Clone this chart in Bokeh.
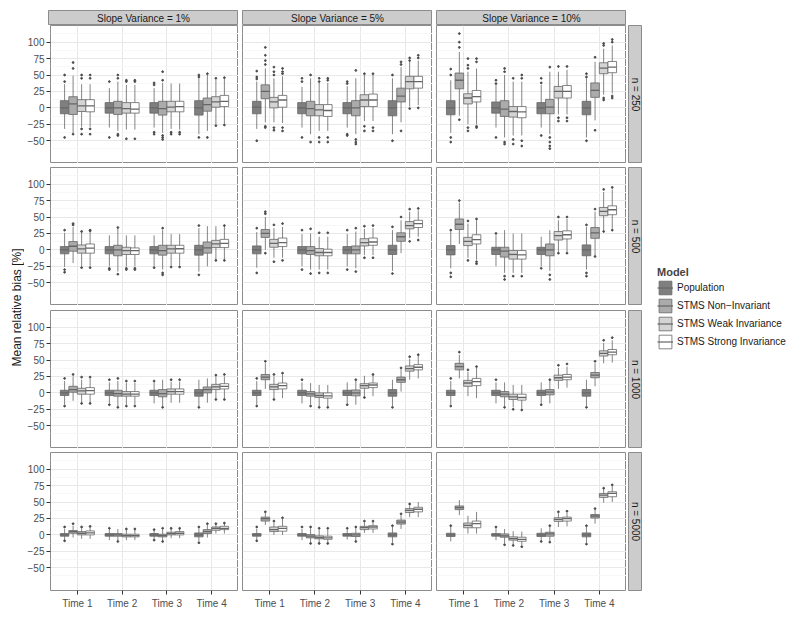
from bokeh.plotting import figure
from bokeh.models import (FactorRange, Range1d, FixedTicker, ColumnDataSource, Label,
                          Legend, LegendItem, Spacer)
from bokeh.layouts import row, column
from bokeh.transform import dodge
from bokeh.embed import file_html
from bokeh.resources import INLINE

# ---------------- data ----------------
times = ["Time 1", "Time 2", "Time 3", "Time 4"]
models = ["Population", "STMS Non\u2212Invariant", "STMS Weak Invariance", "STMS Strong Invariance"]
col_labels = ["Slope Variance = 1%", "Slope Variance = 5%", "Slope Variance = 10%"]
row_labels = ["n = 250", "n = 500", "n = 1000", "n = 5000"]
y_ticks = [-50, -25, 0, 25, 50, 75, 100]
y_minor = [-62.5, -37.5, -12.5, 12.5, 37.5, 62.5, 87.5, 112.5]

# box stats (whisker low, q1, median, q3, whisker high), order: T1 Pop/NonInv/Weak/Strong, T2 ..., T3 ..., T4 ...
n250_sv1 = [(-32, -9, 0, 11, 36), (-38, -10, 6, 17, 49), (-29, -5.5, 3, 12.5, 36), (-29, -6, 3, 12.5, 36),
            (-30, -8, 0, 8, 30), (-35, -10, 0, 10, 40), (-33, -8, -1, 8, 35), (-33, -8, -2, 8, 35),
            (-30, -8, 0, 8, 30), (-38, -11, -1, 10, 38), (-32, -6, 1, 10, 37), (-33, -6, 2, 10, 37),
            (-40, -11, 0, 11, 45), (-35, -5, 5, 15, 50), (-25, 1, 9, 17, 43), (-24, 2, 10, 19, 44)]
n250_sv1_out = [[50, 40, -45], [69, 60, -40], [50, 45, -40, -32], [50, 45, -40, -32],
                [40, -45], [50, 45, -42, -40], [42, 40, -47], [42, 40, -47],
                [38, 35, -37, -40], [55, 42, -42, -45, -48], [-37, -40], [-37, -40],
                [50, 47, -45], [52, -45], [45, -27], [46, -26]]

n250_sv5 = [(-32, -9, 1, 10, 40), (-22, 14, 25, 35, 60), (-22, 0, 9, 16, 45), (-23, 1, 12, 19, 48),
            (-30, -9, 0, 8, 32), (-40, -12, -1, 10, 45), (-35, -12, -3, 5, 38), (-35, -13, -4, 5, 38),
            (-30, -9, 0, 8, 33), (-40, -12, 0, 11, 45), (-20, 2, 12, 20, 50), (-20, 2, 12, 21, 50),
            (-40, -12, 0, 11, 45), (-22, 9, 18, 30, 62), (2, 29, 40, 48, 70), (4, 30, 40, 48, 72)]
n250_sv5_out = [[56, 47, 44, -50], [92, 80, 72, 66, -28, -30], [62, 55, 50, -30, -34], [60, 55, 52, -30, -35],
                [45, 40, -45], [50, -52], [45, 40, -45, -52], [45, 42, -45, -52],
                [40, 37, -40, -42], [57, -48, -52, -55], [52, -28, -35], [52, -30, -35],
                [50, -50], [70, 66, -35], [72, 76, -1], [80, 76, 0]]

n250_sv10 = [(-38, -10.5, 0, 11, 42), (-12, 29, 42, 53, 85), (-25, 6, 15, 21.5, 55), (-25, 9, 17, 26.5, 60),
             (-30, -8, 0, 9, 35), (-45, -13, -2, 11, 50), (-42, -14, -5.5, 2, 40), (-42, -15, -6, 2, 40),
             (-30, -9, 0, 8, 35), (-40, -9, 1, 13, 55), (-10, 15, 25, 32.6, 55), (-10, 15, 25, 34, 58),
             (-45, -10.5, 0, 10, 45), (-19, 16, 26.5, 38, 70), (20, 52, 60.5, 68.6, 90), (22, 53.5, 62, 70.6, 95)]
n250_sv10_out = [[59, 50, -45, -52], [113, 100, 92, -18], [75, 65, 60, -30, -35], [75, 70, -28, -30],
                 [42, 37, -45], [60, 55, -52, -55], [45, -48, -55], [50, 45, -50, -58],
                 [45, 38, -42], [62, -45, -52, -58, -62], [63, -15, -20], [63, -15, -20],
                 [52, 47, -50], [77, -34], [98, 95, 15, 12], [104, 100, 18, 15]]

n500_sv1 = [(-26, -6, 0, 5, 26), (-20, -2, 5.5, 12.6, 35), (-25, -5, 1.5, 7.5, 27), (-25, -5, 2.7, 9, 28),
            (-25, -6, 0, 5, 22), (-33, -9, 0, 7, 32), (-25, -7, -1, 4, 22), (-25, -7, -1, 3, 22),
            (-25, -6, 0, 5, 22), (-30, -8, -1, 7, 30), (-24, -5, 1.5, 7, 24), (-24, -5, 1.7, 7, 24),
            (-33, -8, 0, 7, 33), (-25, -5, 3, 12, 36), (-15, 3.5, 9, 14.5, 36), (-15, 3.5, 10, 16, 36)]
n500_sv1_out = [[30, -30, -34], [40, 38], [28, -27], [30, 29, -27],
                [-28, -30], [34, -37], [-28, -30], [-28, -30],
                [-27], [33, -35, -38], [-26], [-26],
                [37, -38], [], [-16], [37, -16]]

n500_sv5 = [(-27, -6, 0, 6, 27), (0, 19, 25, 31, 50), (-12, 4, 10, 16, 33), (-12, 5, 11, 18, 35),
            (-25, -6, 0, 5, 24), (-30, -7, -1, 5, 25), (-30, -9, -4, 2, 20), (-30, -9, -4, 1, 20),
            (-25, -6, 0, 5, 24), (-28, -6, 0, 6, 28), (-8, 6, 11, 17, 32), (-8, 7, 12, 18, 33),
            (-32, -7, 0, 7, 30), (-5, 13, 20, 26, 45), (18, 32, 37, 43, 58), (20, 34, 40, 45, 60)]
n500_sv5_out = [[33, -35], [58, 55, -5], [38, -18], [40, -16],
                [30, -30], [32, -36], [26, -35], [26, -35],
                [30, -30], [33, -33], [36, -12], [37, -12],
                [35, -36], [50], [62, 13], [63, 15]]

n500_sv10 = [(-28, -7.6, 0, 6.5, 28), (9, 31, 39, 47, 72), (-12, 6.5, 13, 19, 40), (-15, 9, 15.6, 23, 45),
             (-25, -7, 0, 4, 22), (-35, -11, -2, 4, 30), (-35, -14, -7, -1, 25), (-35, -14, -7.5, -1, 25),
             (-25, -7, 0, 4, 20), (-32, -9, 0, 9, 30), (-3, 15, 21.6, 28, 45), (-3, 16.6, 23, 29, 47),
             (-30, -9, 0, 7.6, 35), (-8, 17.6, 26, 34, 58), (30, 52, 58.5, 64.5, 88), (32, 53.5, 61, 67, 92)]
n500_sv10_out = [[30, -35, -41], [75], [44, -16], [47, -21, -18],
                 [25], [-40, -45], [-40], [-40],
                 [-28], [-38, -45], [50, -5], [50, -5],
                 [38, -35, -40], [62, -10], [92, 28], [95, 30]]

n1000_sv1 = [(-18, -4, 0, 4, 18), (-12, 1, 5, 10, 25), (-15, -2, 3, 7, 20), (-15, -2, 3.5, 8, 22),
             (-16, -4, 0, 4, 16), (-20, -5, -1, 4, 18), (-18, -5, -2, 2, 15), (-18, -5, -2, 2, 15),
             (-16, -4, 0, 4, 16), (-20, -6, -1, 5, 20), (-15, -2, 2, 6, 17), (-15, -2, 2, 6, 17),
             (-20, -5, 0, 5, 20), (-15, 0, 5, 9, 22), (-8, 5, 9, 13, 25), (-8, 6, 10, 14, 25)]
n1000_sv1_out = [[22, -20], [28], [24, -16], [24, -16],
                 [20, -18], [22, -22], [18, -20], [18, -20],
                 [18], [-22], [20], [20],
                 [-22], [], [27, -10], [28, -10]]

n1000_sv5 = [(-18, -4, 0, 4, 18), (6, 20, 24, 28, 45), (-8, 5, 9, 13, 25), (-8, 6, 11, 15, 28),
             (-16, -4, 0, 4, 16), (-18, -5, -1.5, 2, 15), (-20, -7, -4, 0, 12), (-20, -8, -4.5, 0, 12),
             (-16, -4, 0, 4, 16), (-18, -4.5, 0, 4.5, 18), (-5, 7, 11, 14, 26), (-5, 8, 12, 15, 27),
             (-20, -5, 0, 5, 20), (2, 16, 20, 24, 36), (20, 33, 37, 41, 52), (22, 35, 39, 43, 56)]
n1000_sv5_out = [[22, -20], [48], [28, -10], [30],
                 [20], [-20], [-22], [-22],
                 [-18], [20], [-7], [28],
                 [-22], [38], [55], [58]]

n1000_sv10 = [(-18, -4, 0, 4, 18), (22, 35, 40, 45, 58), (-5, 10, 15, 19, 32), (-8, 11, 17, 22, 38),
              (-16, -4, 0, 4, 16), (-20, -6, -2, 2, 16), (-22, -10, -6, -2, 12), (-24, -11, -7, -2, 12),
              (-16, -4, 0, 4, 16), (-16, -3, 1, 5, 18), (6, 19, 23, 27, 38), (8, 20, 24, 28, 40),
              (-20, -5, 0, 5, 20), (10, 23, 27, 31, 45), (45, 56, 60, 64, 76), (46, 58, 62, 66, 80)]
n1000_sv10_out = [[22, -20], [62], [35], [40],
                  [20], [-22], [-25], [-26],
                  [-18], [20], [42], [44],
                  [-22], [48], [80], [84]]

n5000_sv1 = [(-8, -2, 0, 2, 9), (-4, 2.5, 5, 6.6, 14), (-6, 0, 2.5, 5, 10), (-6, 0, 3, 6, 12),
             (-8, -2, 0, 2, 8), (-8, -2, 0, 2, 9), (-8, -3, -1, 1, 8), (-8, -3, -1, 1, 8),
             (-7, -2, 0, 2, 7), (-9, -3, -1, 1, 8), (-5, 0, 2, 4, 9), (-5, 0, 2.5, 5, 9),
             (-10, -3, 0, 3, 10), (-4, 2, 5, 8, 15), (2, 7, 10, 12, 16), (2, 8, 10, 13, 17)]
n5000_sv1_out = [[12, -9], [17], [12], [13],
                 [10], [-10], [9], [9],
                 [8, -8], [10, -10], [10], [10],
                 [12, -12], [17], [17], [18]]

n5000_sv5 = [(-8, -2, 0, 2, 9), (15, 21, 24.6, 27, 33), (0, 5, 8, 12, 19), (0, 5.6, 10, 13, 24),
             (-8, -2, 0, 2, 9), (-11, -4.6, -2, 0.5, 10), (-12, -6, -4, -1.5, 8), (-12, -6.7, -4.6, -2, 8),
             (-7, -2, 0, 2, 8), (-8, -2.5, 0, 2.5, 10), (3, 8, 11, 13, 19), (3, 9, 12, 14, 20),
             (-12, -3, 0, 3, 12), (9, 16.4, 19.5, 22.5, 30), (27, 34, 37.4, 40, 45), (27, 35, 39, 42, 50)]
n5000_sv5_out = [[12, -9], [35], [21], [26],
                 [12], [12, -13], [10, -13], [10, -13],
                 [10], [12, -10], [21], [21],
                 [14, -14], [32], [47], []]

n5000_sv10 = [(-10, -2.5, 0, 2.5, 12), (30, 38.5, 41.5, 44, 53), (2, 10.8, 14.4, 18, 29), (2, 10.8, 17, 21, 35),
              (-8, -2, 0, 2, 10), (-13, -3.6, -1.5, 1.5, 9), (-14, -8, -5.6, -3, 5.6), (-16, -9.7, -6.7, -3.6, 5),
              (-8, -2.5, 0, 2.5, 10), (-9, -2, 1.5, 4, 12), (12, 20.5, 23.6, 26, 33), (13, 21, 24.6, 27, 34),
              (-12, -3, 0, 3, 12), (17, 25.6, 28.7, 31, 38), (49, 57, 60.5, 63, 70), (50, 58, 63, 65.6, 74)]
n5000_sv10_out = [[14], [], [], [],
                  [12], [-15], [-16], [-18],
                  [-10], [14, -11], [35], [36],
                  [14, -14], [40], [71], [76]]

panels = [[(n250_sv1, n250_sv1_out), (n250_sv5, n250_sv5_out), (n250_sv10, n250_sv10_out)],
          [(n500_sv1, n500_sv1_out), (n500_sv5, n500_sv5_out), (n500_sv10, n500_sv10_out)],
          [(n1000_sv1, n1000_sv1_out), (n1000_sv5, n1000_sv5_out), (n1000_sv10, n1000_sv10_out)],
          [(n5000_sv1, n5000_sv1_out), (n5000_sv5, n5000_sv5_out), (n5000_sv10, n5000_sv10_out)]]

# ---------------- style ----------------
FONT = "Liberation Sans"
fills = ["#7f7f7f", "#ababab", "#d4d4d4", "#ffffff"]
LINE = "#666666"
BORDER = "#8c8c8c"
STRIP = "#cccccc"
GRID_MAJ = "#e8e8e8"
GRID_MIN = "#f7f7f7"
offsets = [-0.285, -0.095, 0.095, 0.285]
BW = 0.19
YMIN, YMAX = -84.6, 125.3
FW, FH = 190, 138
LEFT = 24
GAP = 4
row_tops = [0, 4, 5, 4]
BOTTOM = 22
PAGE_TOP = 8
YLAB_W = 24

first_sources = {}


def make_panel(r, c):
    stats, outs = panels[r][c]
    left = LEFT if c == 0 else GAP
    bottom = BOTTOM if r == 3 else 0
    top = row_tops[r]
    p = figure(x_range=FactorRange(factors=times, range_padding=0.1, range_padding_units="absolute"),
               y_range=Range1d(YMIN, YMAX),
               width=left + FW, height=top + FH + bottom,
               min_border_left=left, min_border_right=0, min_border_top=top, min_border_bottom=bottom,
               x_axis_location="below" if r == 3 else None,
               y_axis_location="left" if c == 0 else None,
               output_backend="svg", toolbar_location=None)
    p.outline_line_color = BORDER
    p.outline_line_width = 1
    p.xgrid.grid_line_color = GRID_MAJ
    p.ygrid.ticker = FixedTicker(ticks=y_ticks, minor_ticks=y_minor)
    p.ygrid.grid_line_color = GRID_MAJ
    p.ygrid.minor_grid_line_color = GRID_MIN
    if c == 0:
        ax = p.yaxis[0]
        ax.ticker = FixedTicker(ticks=y_ticks)
        ax.axis_line_color = None
        ax.major_tick_in = 0
        ax.major_tick_out = 4
        ax.minor_tick_line_color = None
        ax.major_tick_line_color = "#333333"
        ax.major_label_text_font = FONT
        ax.major_label_text_font_size = "10px"
        ax.major_label_text_color = "#4d4d4d"
        ax.major_label_standoff = 2
    if r == 3:
        ax = p.xaxis[0]
        ax.axis_line_color = None
        ax.major_tick_in = 0
        ax.major_tick_out = 4
        ax.major_tick_line_color = "#333333"
        ax.major_label_text_font = FONT
        ax.major_label_text_font_size = "10px"
        ax.major_label_text_color = "#4d4d4d"
        ax.major_label_standoff = 3
    for m in range(4):
        idx = [t * 4 + m for t in range(4)]
        src = ColumnDataSource(dict(
            time=times,
            lo=[stats[i][0] for i in idx], q1=[stats[i][1] for i in idx],
            med=[stats[i][2] for i in idx], q3=[stats[i][3] for i in idx],
            hi=[stats[i][4] for i in idx]))
        if m not in first_sources:
            first_sources[m] = src
        xo = dodge("time", offsets[m], range=p.x_range)
        p.segment(x0=xo, x1=xo, y0="lo", y1="hi", source=src, line_color=LINE, line_width=0.8)
        p.vbar(x=xo, width=BW, bottom="q1", top="q3", source=src,
               fill_color=fills[m], line_color=LINE, line_width=0.8)
        p.segment(x0=dodge("time", offsets[m] - BW / 2, range=p.x_range), y0="med",
                  x1=dodge("time", offsets[m] + BW / 2, range=p.x_range), y1="med",
                  source=src, line_color=LINE, line_width=1.3)
        ot, oy = [], []
        for t in range(4):
            for v in outs[t * 4 + m]:
                ot.append(times[t])
                oy.append(v)
        osrc = ColumnDataSource(dict(time=ot, y=oy))
        p.scatter(x=dodge("time", offsets[m], range=p.x_range), y="y", source=osrc,
                  size=1.8, color="#4a4a4a")
    return p


def strip_fig(text, width, height, mbl, mbt, mbb, mbr, vertical):
    s = figure(x_range=Range1d(0, 1), y_range=Range1d(0, 1), width=width, height=height,
               min_border_left=mbl, min_border_right=mbr, min_border_top=mbt, min_border_bottom=mbb,
               x_axis_location=None, y_axis_location=None,
               output_backend="svg", toolbar_location=None)
    s.xgrid.visible = False
    s.ygrid.visible = False
    s.background_fill_color = STRIP
    s.outline_line_color = BORDER
    s.add_layout(Label(x=0.5, y=0.5, text=text, text_align="center", text_baseline="middle",
                       text_font=FONT, text_font_size="10px", text_color="#1a1a1a",
                       angle=-90 if vertical else 0, angle_units="deg"))
    return s


# top strips
top_row = []
for c in range(3):
    left = LEFT if c == 0 else GAP
    top_row.append(strip_fig(col_labels[c], left + FW, 17, left, 2, 0, 0, False))
top_row.append(Spacer(width=16, height=17))
rows = [row(*top_row)]
for r in range(4):
    figs = [make_panel(r, c) for c in range(3)]
    bottom = BOTTOM if r == 3 else 0
    figs = figs + [strip_fig(row_labels[r], 16, row_tops[r] + FH + bottom, 2, row_tops[r], bottom, 0, True)]
    rows.append(row(*figs))
grid = column(*rows)
total_h = 17 + sum(row_tops) + 4 * FH + BOTTOM

# y label
yl = figure(x_range=Range1d(0, 1), y_range=Range1d(0, 1), width=YLAB_W, height=total_h,
            min_border=0, x_axis_location=None, y_axis_location=None,
            output_backend="svg", toolbar_location=None)
yl.xgrid.visible = False
yl.ygrid.visible = False
yl.outline_line_color = None
yl.add_layout(Label(x=16 / YLAB_W, y=1 - (307 - PAGE_TOP) / total_h, text="Mean relative bias [%]",
                    text_align="center", text_baseline="middle", text_font=FONT,
                    text_font_size="12px", text_color="#1a1a1a", angle=90, angle_units="deg"))

# legend (its swatch renderers reuse real data but sit outside the visible window)
lg = figure(x_range=Range1d(500, 501), y_range=Range1d(500, 501), width=146, height=total_h,
            min_border=0, x_axis_location=None, y_axis_location=None,
            output_backend="svg", toolbar_location=None)
lg.xgrid.visible = False
lg.ygrid.visible = False
lg.outline_line_color = None
items = []
for m in range(4):
    src = first_sources[m]
    rr = lg.vbar(x="med", bottom="q1", top="q3", width=0.1, source=src,
                 fill_color=fills[m], line_color=LINE, line_width=0.8)
    ll = lg.line(x="med", y="med", source=src, line_color=LINE, line_width=1.2)
    items.append(LegendItem(label=models[m], renderers=[rr, ll]))
legend = Legend(items=items, location=(15, 262), title="Model",
                title_text_font=FONT, title_text_font_style="bold", title_text_font_size="11px",
                title_standoff=1, label_text_font=FONT, label_text_font_size="10px",
                label_text_color="#1a1a1a", glyph_width=16, glyph_height=17, spacing=1,
                label_standoff=4, padding=0, margin=0, border_line_color=None,
                background_fill_alpha=0)
lg.add_layout(legend)

page = column(Spacer(width=10, height=PAGE_TOP), row(yl, grid, lg))
open("out.html", "w").write(file_html(page, INLINE))
